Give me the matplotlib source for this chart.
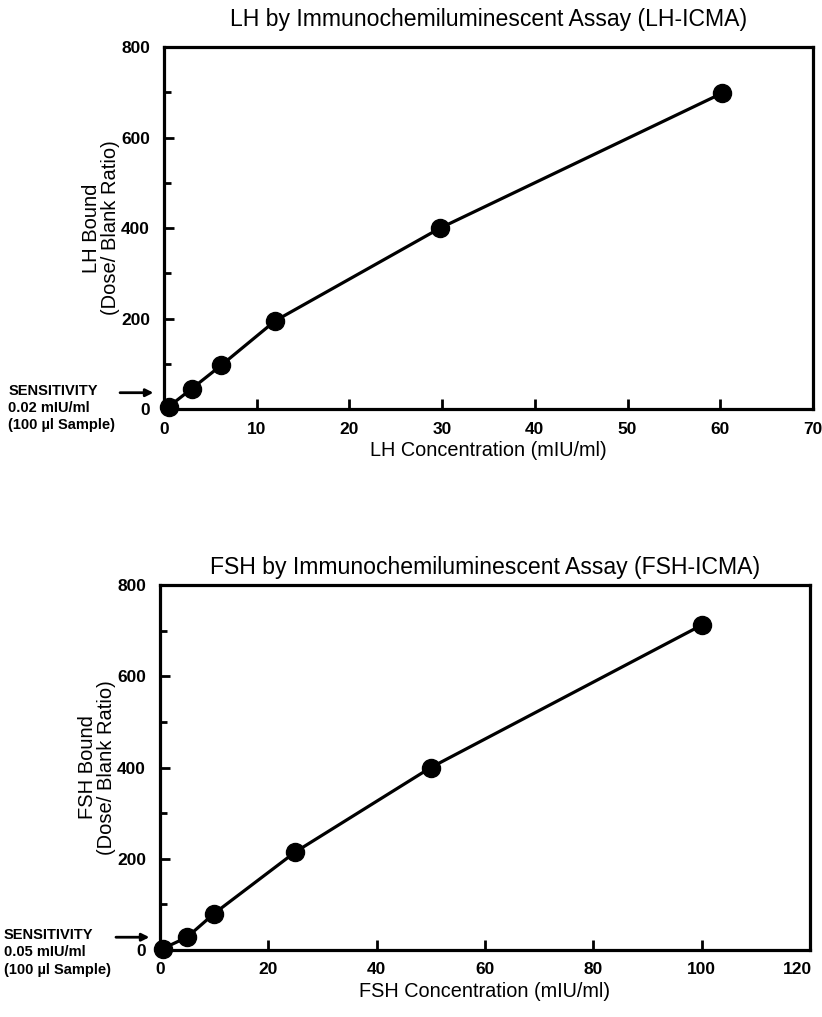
import matplotlib
matplotlib.use("Agg")
import matplotlib.pyplot as plt
from matplotlib.ticker import MultipleLocator, FuncFormatter

plt.rcParams["font.family"] = ["Liberation Sans", "DejaVu Sans"]

# LH standard curve
lh_conc = [0.5, 3, 6.2, 12, 29.8, 60.2]
lh_bound = [5, 45, 97, 195, 400, 698]

# FSH standard curve
fsh_conc = [0.5, 5, 10, 25, 50, 100]
fsh_bound = [3, 28, 80, 215, 400, 712]

panels = [
    dict(title="LH by Immunochemiluminescent Assay (LH-ICMA)",
         xlabel="LH Concentration (mIU/ml)",
         ylabel="LH Bound\n(Dose/ Blank Ratio)",
         x=lh_conc, y=lh_bound, xmax=70, xstep=10,
         sens="0.02 mIU/ml", title_pad=15, sens_y=0.045, last_shift=0,
         rect=[164 / 822, 1 - 409 / 1017, 649 / 822, 362 / 1017]),
    dict(title="FSH by Immunochemiluminescent Assay (FSH-ICMA)",
         xlabel="FSH Concentration (mIU/ml)",
         ylabel="FSH Bound\n(Dose/ Blank Ratio)",
         x=fsh_conc, y=fsh_bound, xmax=120, xstep=20,
         sens="0.05 mIU/ml", title_pad=8, sens_y=0.035, last_shift=-9,
         rect=[160 / 822, 1 - 950 / 1017, 650 / 822, 365 / 1017]),
]

fig = plt.figure(figsize=(8.22, 10.17), dpi=100)

for p in panels:
    ax = fig.add_axes(p["rect"])
    ax.plot(p["x"], p["y"], color="black", lw=2.3, marker="o", ms=13,
            mfc="black", mec="black", clip_on=False, zorder=5)
    ax.set_xlim(0, p["xmax"])
    ax.set_ylim(0, 800)
    ax.xaxis.set_major_locator(MultipleLocator(p["xstep"]))
    ax.yaxis.set_major_locator(MultipleLocator(200))
    ax.yaxis.set_minor_locator(MultipleLocator(100))

    # the label at the right end of the x axis is written separately
    xmax = p["xmax"]
    ax.xaxis.set_major_formatter(
        FuncFormatter(lambda v, pos, m=xmax: "" if abs(v - m) < 1e-9 else f"{v:g}"))

    ax.tick_params(axis="both", which="major", direction="in", length=7,
                   width=2, labelsize=12.5)
    ax.tick_params(axis="y", which="major", pad=10)
    ax.tick_params(axis="x", which="major", pad=9)
    ax.tick_params(axis="y", which="minor", direction="in", length=5, width=2)
    for lab in ax.get_xticklabels() + ax.get_yticklabels():
        lab.set_fontweight("bold")
    ax.annotate(f"{xmax:g}", xy=(xmax, 0), xycoords="data",
                xytext=(p["last_shift"], -9), textcoords="offset points",
                ha="center", va="top", fontsize=12.5, fontweight="bold",
                annotation_clip=False)

    for s in ax.spines.values():
        s.set_linewidth(2.3)
    ax.set_title(p["title"], fontsize=16.6, pad=p["title_pad"])
    ax.set_xlabel(p["xlabel"], fontsize=14.3, labelpad=3)
    ax.text(-0.097, 0.5, p["ylabel"], transform=ax.transAxes, rotation=90,
            ha="center", va="center", multialignment="center", fontsize=14.5,
            linespacing=1.05)

    # detection-limit note beside the zero of the y axis
    sy = p["sens_y"]
    ax.annotate("", xy=(-0.012, sy), xytext=(-0.072, sy),
                xycoords="axes fraction",
                arrowprops=dict(arrowstyle="-|>", color="black", lw=2,
                                mutation_scale=11))
    ax.text(-0.24, sy + 0.025, "SENSITIVITY\n" + p["sens"] + "\n(100 \u00b5l Sample)",
            transform=ax.transAxes, ha="left", va="top", fontsize=10.5,
            fontweight="bold", linespacing=1.3)

fig.savefig("out.png", dpi=100, facecolor="white")
